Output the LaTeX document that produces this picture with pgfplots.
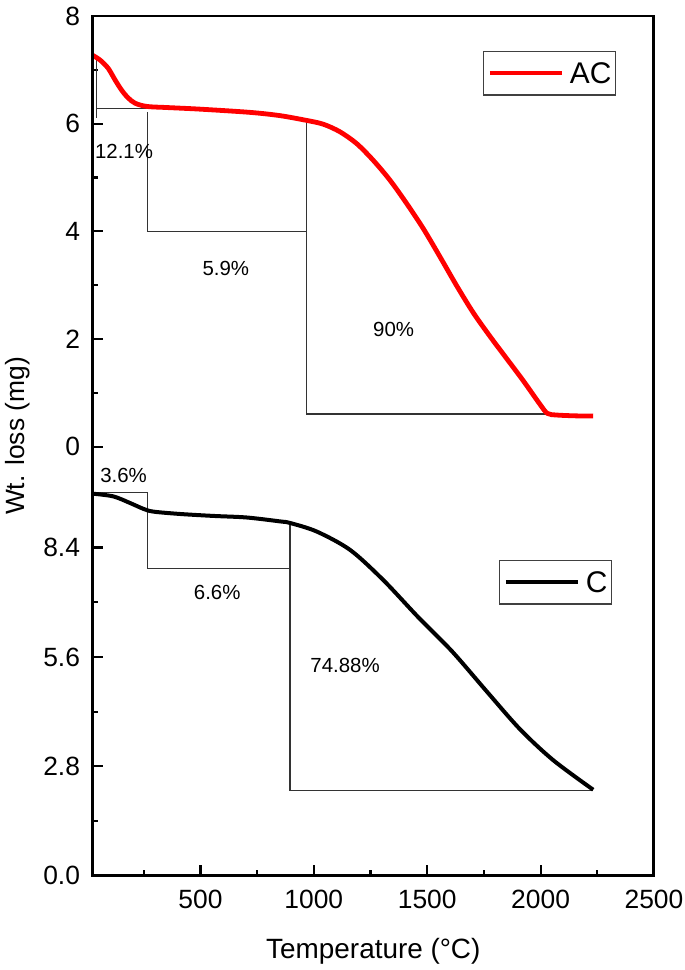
\documentclass[border=0pt]{standalone}
\usepackage{fontspec}
\setmainfont{Liberation Sans}
\usepackage{pgfplots}
\pgfplotsset{compat=1.18}

\pgfplotstableread{
x y
25 7.27
58 7.18
93 7.03
124 6.81
153 6.62
181 6.48
212 6.38
264 6.32
352 6.30
498 6.27
719 6.21
850 6.15
969 6.06
1042 5.99
1115 5.85
1189 5.63
1262 5.32
1336 4.95
1409 4.52
1483 4.05
1556 3.53
1630 2.99
1703 2.49
1777 2.05
1850 1.64
1923 1.23
1997 0.79
2030 0.62
2070 0.59
2150 0.575
2232 0.57
}\ACdata

\pgfplotstableread{
x y
25 9.78
116 9.71
190 9.54
249 9.39
293 9.32
410 9.26
557 9.21
704 9.17
851 9.07
895 9.03
1013 8.81
1160 8.34
1306 7.57
1460 6.62
1610 5.74
1762 4.72
1909 3.75
2055 2.96
2232 2.20
}\Cdata

\tikzset{lbl/.style={font=\fontsize{20.5}{24}\selectfont, anchor=base, inner sep=0pt}}

\begin{document}
\begin{tikzpicture}
\useasboundingbox (0bp,0bp) rectangle (685bp,970bp);
\pgfplotsset{
  annot/.style={black!80, line width=1.2bp, forget plot},
  common/.style={
    scale only axis, width=561.3bp, xmin=25, xmax=2500,
    axis line style={draw=none},
    tick align=inside, major tick length=10.7bp, minor tick length=5.3bp,
    tick style={black, line width=2.2bp},
    ytick pos=left, xtick pos=bottom,
    /pgf/number format/assume math mode=true,
    /pgf/number format/1000 sep={},
    tick label style={font=\fontsize{26.5}{30}\selectfont},
    yticklabel style={inner sep=0pt, xshift=-12.5bp},
    xticklabel style={inner sep=0pt, yshift=-14bp},
    clip=false,
    legend style={draw=black!75, line width=1.3bp, fill=white,
      inner xsep=4bp, inner ysep=11.25bp, column sep=6bp,
      font=\fontsize{30}{36}\selectfont,
      nodes={inner sep=0pt, text depth=0pt},
      anchor=north east},
    legend image code/.code={\draw[##1, line width=4bp] (0bp,0bp) -- (72bp,0bp);},
  }
}

\begin{axis}[common, at={(92.7bp,520bp)}, anchor=south west, height=434bp,
  ymin=-0.0594, ymax=8, ytick={0,2,4,6,8}, minor ytick={1,3,5,7},
  xtick=\empty,
  legend style={at={(0.9323,0.9194)}}]
\addplot[annot] coordinates {(40,7.22) (40,6.10)};
\addplot[annot] coordinates {(43,6.28) (293,6.28)};
\addplot[annot] coordinates {(268,6.22) (268,4.0) (966,4.0)};
\addplot[annot] coordinates {(969,6.06) (969,0.61) (2094,0.61)};
\addplot[red, line width=4.8bp, smooth, tension=0.5] table[x=x,y=y] {\ACdata};
\addlegendentry{AC}
\node[lbl] at (axis cs:163,5.36) {12.1\%};
\node[lbl] at (axis cs:612,3.19) {5.9\%};
\node[lbl] at (axis cs:1352,2.04) {90\%};
\end{axis}

\begin{axis}[common, at={(92.7bp,94.3bp)}, anchor=south west, height=437.5bp,
  ymin=0, ymax=11.2, ytick={0,2.8,5.6,8.4}, minor ytick={1.4,4.2,7,9.8},
  yticklabel style={/pgf/number format/.cd, fixed, fixed zerofill, precision=1},
  xtick={500,1000,1500,2000,2500}, minor xtick={250,750,1250,1750,2250},
  xlabel={Temperature (°C)},
  xlabel style={at={(axis description cs:0.5,0)}, anchor=base, yshift=-82.3bp,
    font=\fontsize{28}{32}\selectfont, inner sep=0pt},
  ylabel={Wt. loss (mg)},
  ylabel style={at={(axis description cs:-0.1215,1.005)}, anchor=base,
    font=\fontsize{26.5}{30}\selectfont, inner sep=0pt},
  legend style={at={(0.9252,0.7216)}}]
\addplot[annot] coordinates {(25,9.80) (267,9.80) (267,7.86) (895,7.86)};
\addplot[annot] coordinates {(895,9.02) (895,2.19) (2232,2.19)};
\addplot[black, line width=4bp, smooth, tension=0.5] table[x=x,y=y] {\Cdata};
\addlegendentry{C}
\node[lbl] at (axis cs:161,10.06) {3.6\%};
\node[lbl] at (axis cs:574,7.06) {6.6\%};
\node[lbl] at (axis cs:1138,5.20) {74.88\%};
\end{axis}

\draw[line width=2.5bp] (92.7bp,94.3bp) rectangle (653.7bp,954bp);
\end{tikzpicture}
\end{document}
